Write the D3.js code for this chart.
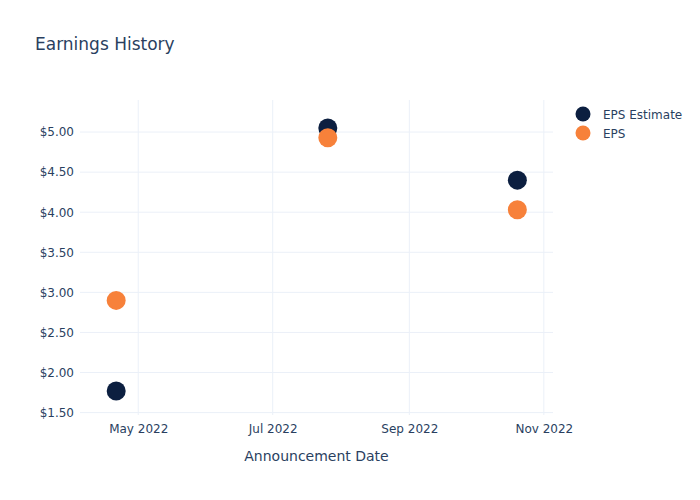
<!DOCTYPE html>
<html>
<head>
<meta charset="utf-8">
<script src="https://cdn.jsdelivr.net/npm/d3@7"></script>
<style>
  body { margin: 0; background: #fff; }
  svg { font-family: "DejaVu Sans", sans-serif; }
</style>
</head>
<body>
<div id="chart"></div>
<script>
const dates = ["2022-04-21", "2022-07-26", "2022-10-20"];
const epsEstimate = [1.77, 5.05, 4.40];
const eps = [2.90, 4.93, 4.03];
const yTicks = [1.5, 2.0, 2.5, 3.0, 3.5, 4.0, 4.5, 5.0];
const xTicks = ["2022-05-01", "2022-07-01", "2022-09-01", "2022-11-01"];
const seriesNames = ["EPS Estimate", "EPS"];
const colors = ["#0c1f40", "#f7813a"];

const W = 700, H = 500;
const m = { left: 80, right: 147, top: 100, bottom: 85 };
const svg = d3.select("#chart").append("svg").attr("width", W).attr("height", H);

const parse = d3.utcParse("%Y-%m-%d");
const x = d3.scaleUtc()
  .domain([new Date(Date.UTC(2022, 3, 4, 14)), new Date(Date.UTC(2022, 10, 5, 4))])
  .range([m.left, W - m.right]);
const y = d3.scaleLinear().domain([1.47, 5.40]).range([H - m.bottom, m.top]);

const textColor = "#2a3f5f";
const gridColor = "#ebf0f8";

// grid
const g = svg.append("g");
g.selectAll(".yg").data(yTicks).join("line")
  .attr("x1", m.left).attr("x2", W - m.right)
  .attr("y1", d => y(d)).attr("y2", d => y(d))
  .attr("stroke", gridColor).attr("stroke-width", 1);
g.selectAll(".xg").data(xTicks).join("line")
  .attr("x1", d => x(parse(d))).attr("x2", d => x(parse(d)))
  .attr("y1", m.top).attr("y2", H - m.bottom)
  .attr("stroke", gridColor).attr("stroke-width", 1);

// y axis
const yAxis = d3.axisLeft(y).tickValues(yTicks).tickFormat(d => "$" + d3.format(".2f")(d)).tickSize(0).tickPadding(6);
svg.append("g").attr("transform", `translate(${m.left},0)`).call(yAxis)
  .call(s => s.select(".domain").remove())
  .call(s => s.selectAll("text").attr("fill", textColor).style("font-size", "12px").style("font-family", "DejaVu Sans"));

// x axis
const xAxis = d3.axisBottom(x).tickValues(xTicks.map(parse)).tickFormat(d3.utcFormat("%b %Y")).tickSize(0).tickPadding(9);
svg.append("g").attr("transform", `translate(0,${H - m.bottom})`).call(xAxis)
  .call(s => s.select(".domain").remove())
  .call(s => s.selectAll("text").attr("fill", textColor).style("font-size", "12px").style("font-family", "DejaVu Sans"));

// axis title
svg.append("text").attr("x", (m.left + W - m.right) / 2).attr("y", 461)
  .attr("text-anchor", "middle").attr("fill", textColor).style("font-size", "14px")
  .text("Announcement Date");

// title
svg.append("text").attr("x", 35).attr("y", 50).attr("fill", textColor)
  .style("font-size", "17px").text("Earnings History");

// points
const series = [epsEstimate, eps];
series.forEach((vals, i) => {
  svg.append("g").selectAll("circle").data(vals).join("circle")
    .attr("cx", (d, j) => x(parse(dates[j])))
    .attr("cy", d => y(d))
    .attr("r", 9.5)
    .attr("fill", colors[i]);
});

// legend
const lg = svg.append("g");
seriesNames.forEach((name, i) => {
  const yy = 114 + i * 19;
  lg.append("circle").attr("cx", 583).attr("cy", yy).attr("r", 7.5).attr("fill", colors[i]);
  lg.append("text").attr("x", 603).attr("y", yy + 4.5).attr("fill", textColor)
    .style("font-size", "12px").text(name);
});
</script>
</body>
</html>
